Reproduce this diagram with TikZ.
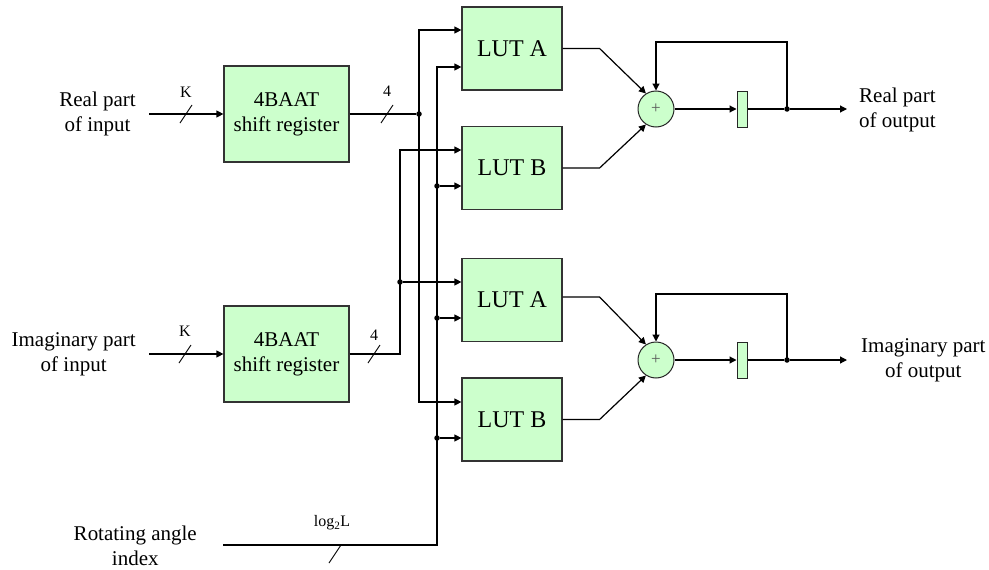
\documentclass[tikz,border=0pt]{standalone}
\usepackage{fontspec}
\setmainfont{Liberation Serif}
\newfontfamily\diagfont{Liberation Serif}
\usetikzlibrary{arrows.meta,positioning,calc}
\definecolor{boxgreen}{RGB}{204,255,204}
\tikzset{
    % green blocks
    regbox/.style={
        draw=black!80, fill=boxgreen, line width=1.2pt,
        minimum width=125pt, minimum height=96pt, inner sep=0pt,
        align=center, font=\diagfont\fontsize{21}{25}\selectfont
    },
    lutbox/.style={
        draw=black!80, fill=boxgreen, line width=1.2pt,
        minimum width=100pt, minimum height=83pt, inner sep=0pt,
        font=\diagfont\fontsize{24}{28}\selectfont
    },
    addnode/.style={
        circle, draw=black!85, fill=boxgreen, line width=1pt,
        minimum size=36pt, inner sep=0pt,
        font=\diagfont\fontsize{17}{17}\selectfont\color{black!65}
    },
    dlybox/.style={
        draw=black!85, fill=boxgreen, line width=1pt,
        minimum width=10pt, minimum height=36pt, inner sep=0pt
    },
    % lines
    sig/.style={line width=1.2pt, black},
    sigarrow/.style={
        sig, -{Triangle[length=7pt, width=7pt]}
    },
    slash/.style={line width=0.9pt},
    junct/.style={circle, fill=black, inner sep=0pt, minimum size=5.5pt},
    % texts
    lbl/.style={inner sep=0pt, font=\diagfont\fontsize{21}{25}\selectfont},
    bitlbl/.style={inner sep=0pt, font=\diagfont\fontsize{16}{18}\selectfont}
}

\begin{document}
\begin{tikzpicture}[x=1pt, y=-1pt]
   \useasboundingbox (0,0) rectangle (989,570);

   % blocks
   \node[regbox] (sr1) at (286.5,114) {4BAAT\\shift register};
   \node[regbox] (sr2) at (286.5,354) {4BAAT\\shift register};
   \node[lutbox] (lutA1) at (512,48.5) {LUT A};
   \node[lutbox] (lutB1) at (512,168) {LUT B};
   \node[lutbox] (lutA2) at (512,300) {LUT A};
   \node[lutbox] (lutB2) at (512,419.5) {LUT B};
   \node[addnode] (add1) at (656,109) {+};
   \node[addnode] (add2) at (656,360) {+};
   \node[dlybox] (dly1) at (742,109) {};
   \node[dlybox] (dly2) at (742,360) {};

   % input and output texts
   \node[lbl, align=center, anchor=east] (inRe) at (136,114) {Real part\\of input};
   \node[lbl, align=center, anchor=east] (inIm) at (136,354) {Imaginary part\\of input};
   \node[lbl, align=center, anchor=east] (inRot) at (197,546) {Rotating angle\\index};
   \node[lbl, align=left, anchor=west] (outRe) at (859,110) {Real part\\of output};
   \node[lbl, align=center, anchor=west] (outIm) at (861,360) {Imaginary part\\of output};

   % inputs
   \draw[sigarrow] ([xshift=13pt]inRe.east) -- (sr1.west);
   \draw[sigarrow] ([xshift=13pt]inIm.east) -- (sr2.west);
   \draw[slash] (186,114) ++(-6,9) -- ++(12,-18);
   \draw[slash] (185,354) ++(-6,9) -- ++(12,-18);
   \node[bitlbl] (kRe) at (186,92) {K};
   \node[bitlbl] (kIm) at (185,331) {K};

   % LUT input points
   \coordinate (a1up) at ([yshift=18.5pt]lutA1.west);
   \coordinate (a1lo) at ([yshift=-18.5pt]lutA1.west);
   \coordinate (b1up) at ([yshift=18pt]lutB1.west);
   \coordinate (b1lo) at ([yshift=-18pt]lutB1.west);
   \coordinate (a2up) at ([yshift=18pt]lutA2.west);
   \coordinate (a2lo) at ([yshift=-18pt]lutA2.west);
   \coordinate (b2up) at ([yshift=17.5pt]lutB2.west);
   \coordinate (b2lo) at ([yshift=-18.5pt]lutB2.west);

   % real bus
   \node[junct] (j1) at (419,114) {};
   \draw[sig] (sr1.east) -- (j1);
   \draw[sigarrow] (j1.center) |- (a1up);
   \draw[sigarrow] (j1.center) |- (b2up);
   \draw[slash] (387,114) ++(-6,9) -- ++(12,-18);
   \node[bitlbl] (nRe) at (387,91) {4};

   % imaginary bus
   \node[junct] (j2) at (400,282) {};
   \draw[sig] (sr2.east) -| (j2.center);
   \draw[sigarrow] (j2.center) |- (b1up);
   \draw[sigarrow] (j2) -- (a2up);
   \draw[slash] (374,354) ++(-6,9) -- ++(12,-18);
   \node[bitlbl] (nIm) at (374,335) {4};

   % angle bus
   \coordinate (rotIn) at (223,545);
   \coordinate (bus3) at (437,545);
   \draw[sigarrow] (rotIn) -- (bus3) |- (a1lo);
   \node[junct] (j3) at (bus3 |- b1lo) {};
   \node[junct] (j4) at (bus3 |- a2lo) {};
   \node[junct] (j5) at (bus3 |- b2lo) {};
   \draw[sigarrow] (j3) -- (b1lo);
   \draw[sigarrow] (j4) -- (a2lo);
   \draw[sigarrow] (j5) -- (b2lo);
   \draw[slash] (335,554) ++(-6,9) -- ++(12,-18);
   \node[bitlbl] (nRot) at (332,523) {log\textsubscript{2}L};

   % adders
   \draw[sigarrow] (lutA1.east) -- ++(37,0) -- (add1.123);
   \draw[sigarrow] (lutB1.east) -- ++(37,0) -- (add1.237);
   \draw[sigarrow] ([yshift=3pt]lutA2.east) -- ++(37,0) -- (add2.123);
   \draw[sigarrow] (lutB2.east) -- ++(37,0) -- (add2.237);

   % accumulators
   \node[junct] (f1) at (787,109) {};
   \node[junct] (f2) at (787,360) {};
   \draw[sigarrow] (add1) -- (dly1);
   \draw[sigarrow] (add2) -- (dly2);
   \draw[sig] (dly1) -- (f1);
   \draw[sig] (dly2) -- (f2);
   \draw[sigarrow] (f1.center) -- ++(0,-67) -| (add1.north);
   \draw[sigarrow] (f2.center) -- ++(0,-66) -| (add2.north);
   \draw[sigarrow] (f1) -- ([xshift=-12pt]outRe.west |- f1);
   \draw[sigarrow] (f2) -- ([xshift=-14pt]outIm.west |- f2);
\end{tikzpicture}
\end{document}
